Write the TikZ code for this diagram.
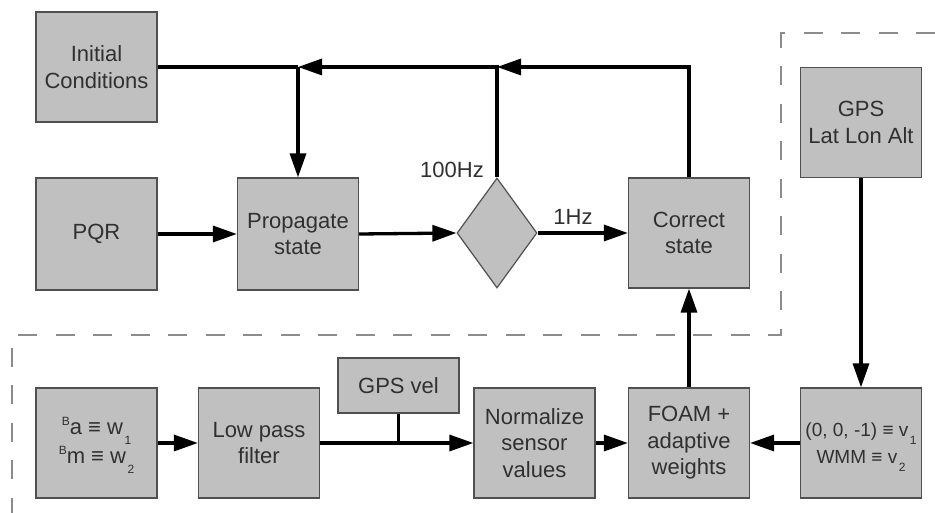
\documentclass[tikz,border=0pt]{standalone}
\usepackage{fontspec}
\setmainfont{Liberation Sans}
\usetikzlibrary{arrows.meta,shapes.geometric}
\definecolor{boxfill}{HTML}{C0C0C0}
\definecolor{boxline}{HTML}{505050}
\definecolor{txt}{HTML}{303030}
\definecolor{dashc}{HTML}{8C8C8C}
\newcommand{\smallf}{\fontsize{12}{12}\selectfont}
\newcommand{\supB}[1]{\raisebox{#1}[0pt][0pt]{\smallf B}}
\newcommand{\subN}[2]{\kern1.5pt\raisebox{#1}[0pt][0pt]{\smallf #2}}
\begin{document}
\begin{tikzpicture}[x=1pt,y=-1pt,
  blockbox/.style={draw=boxline,line width=1.2pt,fill=boxfill,text=txt,
    minimum width=121pt,minimum height=110pt,inner sep=0pt,align=center,
    font=\fontsize{22}{26.5}\selectfont},
  conn/.style={line width=3.3pt,draw=black},
  arr/.style={conn,-{Triangle[length=24pt,width=16pt]}},
  lbl/.style={text=txt,font=\fontsize{22}{26}\selectfont,inner sep=0pt}
]
\useasboundingbox (0,0) rectangle (935,513);
% dashed region borders
\draw[dashc,line width=2pt,dash pattern=on 19pt off 18.5pt] (935,33) -- (781,33) -- (781,335) -- (12,335) -- (12,513);

% top row
\node[blockbox] (ic) at (96.5,67) {Initial\\Conditions};
\node[blockbox,minimum height=112pt] (pqr) at (96.5,234) {PQR};
\node[blockbox,minimum height=112pt] (prop) at (298,234) {Propagate\\state};
\node[diamond,draw=boxline,line width=1.2pt,fill=boxfill,inner sep=0pt,
      minimum width=80pt,minimum height=110pt] (dia) at (497,233) {};
\node[blockbox] (cs) at (689,233) {Correct\\state};
\node[blockbox] (gps) at (861,122.5) {GPS\\Lat Lon Alt};

% bottom row
\node[blockbox,font=\fontsize{22}{29}\selectfont] (ba) at (96.5,443)
  {\supB{9pt}a ≡ w\subN{-10pt}{1}\\\supB{9pt}m ≡ w\subN{-10pt}{2}};
\node[blockbox] (lpf) at (259,443) {Low pass\\filter};
\node[blockbox,minimum height=55pt] (gpsvel) at (398.5,385.5) {GPS vel};
\node[blockbox] (norm) at (534.5,443) {Normalize\\sensor\\values};
\node[blockbox] (foam) at (689,443) {FOAM +\\adaptive\\weights};
\node[blockbox,font=\fontsize{19}{27}\selectfont] (vv) at (861,443)
  {(0, 0, -1) ≡ v\subN{-8pt}{1}\\WMM ≡ v\subN{-8pt}{2}};

% labels
\node[lbl,anchor=east] (l100) at (484,170) {100Hz};
\node[lbl] (l1) at (573,217) {1Hz};

% junctions
\coordinate (j1) at (298,67);
\coordinate (j2) at (497,67);
\coordinate (jv) at (398.5,443);

% connectors
\draw[arr] (cs.north) |- (j2);
\draw[arr] (dia.north) -- (j2) -- (j1);
\draw[conn] (ic.east) -- (j1);
\draw[arr] (j1) -- (prop.north);
\draw[arr] (pqr.east) -- (prop.west);
\draw[arr] (prop.east) -- (dia.west);
\draw[arr] (dia.east) -- (cs.west);
\draw[arr] (foam.north) -- (cs.south);
\draw[arr] (gps.south) -- (vv.north);
\draw[arr] (ba.east) -- (lpf.west);
\draw[arr] (lpf.east) -- (norm.west);
\draw[conn] (gpsvel.south) -- (jv);
\draw[arr] (norm.east) -- (foam.west);
\draw[arr] (vv.west) -- (foam.east);
\end{tikzpicture}
\end{document}
